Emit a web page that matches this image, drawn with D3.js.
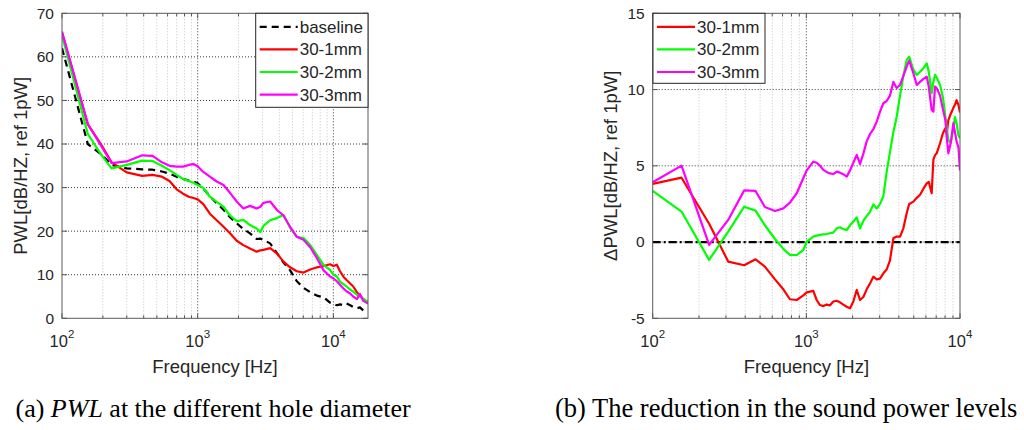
<!DOCTYPE html>
<html>
<head>
<meta charset="utf-8">
<script src="https://cdn.jsdelivr.net/npm/d3@7"></script>
<style>
  body { margin: 0; background: #fff; }
  text { font-family: "Liberation Sans", Arial, sans-serif; fill: #262626; }
  .cap { font-family: "Liberation Serif", "Times New Roman", serif; fill: #000; }
</style>
</head>
<body>
<svg id="fig" width="1024" height="430"></svg>
<script>
// ---- panel (a): PWL, frequency grid shared by all four curves
const freqA = [100, 155, 195, 232, 300, 390, 465, 545, 620, 700, 780, 860, 930, 1000, 1100, 1230, 1380, 1550, 1730, 1940,
  2170, 2430, 2720, 2900, 3050, 3420, 3830, 4290, 4800, 5380, 6030, 6750, 7570, 8480, 9450, 10000, 10600, 11200, 11900,
  12500, 13300, 14000, 14900, 15700, 16600, 17500, 18000];

const baseline = [62.0, 40.0, 37.6, 35.2, 34.4, 34.2, 34.1, 33.7, 33.2, 32.5, 32.0, 31.6, 31.4, 31.0, 29.8, 28.0, 26.4, 24.9, 23.2, 21.8,
  20.5, 19.5, 18.2, 18.3, 18.0, 17.2, 15.0, 12.8, 11.0, 8.5, 7.0, 6.0, 5.2, 4.8, 3.6, 3.3, 3.0, 3.2, 3.0,
  3.4, 3.0, 2.6, 2.3, 2.5, 1.8, 1.6, 1.5];
const pwl1mm = [65.5, 44.5, 39.8, 35.8, 33.5, 32.7, 32.9, 32.5, 31.5, 29.6, 28.6, 27.9, 27.6, 27.3, 26.2, 24.0, 22.5, 21.0, 19.5, 17.8,
  16.8, 16.0, 15.3, 15.6, 15.7, 16.1, 14.9, 13.0, 11.7, 10.8, 10.5, 11.2, 11.7, 12.0, 12.4, 12.0, 12.3, 10.8, 9.5,
  8.8, 8.0, 7.3, 6.0, 5.2, 4.4, 3.9, 3.7];
const pwl2mm = [65.0, 42.3, 37.5, 34.4, 35.2, 36.2, 36.1, 35.0, 34.0, 32.9, 32.0, 31.5, 31.1, 30.6, 29.9, 27.9, 26.7, 25.6, 23.6, 22.3,
  22.6, 21.4, 20.6, 19.8, 21.2, 22.5, 23.0, 23.7, 20.8, 18.7, 18.4, 16.8, 14.5, 12.2, 11.1, 10.0, 9.6, 8.4, 7.8,
  7.3, 6.6, 6.1, 5.4, 5.0, 4.5, 4.0, 3.8];
const pwl3mm = [65.8, 44.6, 39.5, 35.6, 36.0, 37.4, 37.3, 35.8, 35.0, 34.8, 34.8, 35.2, 35.4, 34.9, 33.6, 32.5, 31.4, 30.6, 28.8, 26.8,
  25.2, 25.8, 25.2, 25.6, 26.5, 26.8, 24.9, 23.6, 21.0, 18.7, 18.0, 16.3, 13.8, 11.0, 9.6, 9.2, 8.5, 7.7, 6.8,
  6.2, 5.7, 5.0, 4.4, 5.6, 4.0, 3.6, 3.4];

// ---- panel (b): delta PWL
const freqB = [100, 154, 233, 310, 394, 467, 537, 625, 708, 782, 866, 956, 1005, 1110, 1167, 1227, 1290, 1356, 1426, 1498,
  1575, 1656, 1740, 1830, 1925, 2022, 2127, 2235, 2350, 2470, 2600, 2730, 2870, 3016, 3170, 3333, 3500, 3684, 3870,
  4071, 4280, 4499, 4670, 4972, 5230, 5495, 5780, 6072, 6260, 6540, 6710, 6880, 7050, 7416, 7740, 8030, 8195, 8400,
  8700, 9057, 9270, 9500, 9770, 10000];

const d1mm = [3.81, 4.22, 1.2, -1.28, -1.52, -1.13, -1.61, -2.45, -3.1, -3.75, -3.8, -3.5, -3.3, -3.2, -3.8, -4.13, -4.2, -4.1, -4.15, -3.9,
  -3.85, -3.95, -4.1, -4.24, -4.34, -3.9, -3.14, -3.8, -3.6, -3.1, -2.7, -2.27, -2.45, -2.4, -2.05, -1.8, -1.2, 0.25, 0.36,
  0.36, 0.9, 1.89, 2.5, 2.65, 2.9, 3.1, 3.5, 3.85, 3.95, 3.2, 5.4, 5.7, 5.82, 6.48, 7.13, 7.46, 7.1, 8.0,
  8.4, 8.8, 9.0, 9.3, 9.0, 8.5];
const d2mm = [3.35, 2.0, -1.17, 0.68, 2.32, 2.06, 1.1, 0.2, -0.45, -0.85, -0.85, -0.52, 0.03, 0.36, 0.42, 0.47, 0.5, 0.53, 0.58, 0.62,
  0.9, 0.97, 0.85, 0.79, 1.1, 1.35, 1.62, 0.9, 1.4, 1.7, 2.0, 2.47, 2.2, 2.5, 3.0, 4.6, 5.9, 7.2, 8.2,
  9.6, 10.9, 11.94, 12.16, 11.3, 10.96, 11.17, 11.4, 11.72, 11.17, 9.75, 10.5, 10.96, 10.8, 10.3, 9.5, 8.22, 7.5, 6.7,
  6.5, 7.4, 8.2, 7.8, 7.0, 6.8];
const d3mm = [3.92, 5.01, -0.19, 1.45, 3.39, 3.35, 2.3, 2.04, 2.21, 2.58, 3.2, 4.2, 4.7, 5.27, 5.2, 5.0, 4.73, 4.6, 4.5, 4.46,
  4.62, 4.55, 4.45, 4.29, 4.7, 5.2, 5.71, 5.12, 5.8, 6.6, 7.1, 7.4, 7.9, 8.55, 9.1, 9.25, 9.6, 10.5, 10.1,
  10.3, 10.9, 11.5, 11.9, 11.07, 10.3, 10.5, 10.7, 10.85, 10.2, 8.66, 8.55, 10.2, 10.1, 9.6, 8.7, 8.0, 6.9, 5.82,
  6.5, 7.8, 7.2, 6.6, 6.2, 4.7];

const ticksA = [0, 10, 20, 30, 40, 50, 60, 70];
const ticksB = [-5, 0, 5, 10, 15];
const namesA = ['baseline', '30-1mm', '30-2mm', '30-3mm'];
const namesB = ['30-1mm', '30-2mm', '30-3mm'];
const colors = { 'baseline': '#000', '30-1mm': '#ff0000', '30-2mm': '#00ff00', '30-3mm': '#ff00ff' };

const svg = d3.select('#fig');

function drawPanel(o) {
  var x = d3.scaleLog().domain(o.xDomain).range([o.left, o.right]);
  var y = d3.scaleLinear().domain(o.yDomain).range([o.bottom, o.top]);
  var g = svg.append('g');

  // minor + major x grid
  var minor = [];
  for (var e = 2; e <= 4; e++) {
    for (var m = 2; m <= 9; m++) {
      var v = m * Math.pow(10, e);
      if (v > o.xDomain[0] && v < o.xDomain[1]) minor.push(v);
    }
  }
  var major = [100, 1000, 10000].filter(d => d >= o.xDomain[0] && d <= o.xDomain[1]);

  g.selectAll('.mg').data(minor).join('line')
    .attr('x1', d => x(d)).attr('x2', d => x(d))
    .attr('y1', o.top).attr('y2', o.bottom)
    .attr('stroke', '#c4c4c4').attr('stroke-width', 1).attr('stroke-dasharray', '1,2');
  g.selectAll('.Mg').data(major.filter(d => x(d) > o.left + 1 && x(d) < o.right - 1)).join('line')
    .attr('x1', d => x(d)).attr('x2', d => x(d))
    .attr('y1', o.top).attr('y2', o.bottom)
    .attr('stroke', '#3a3a3a').attr('stroke-width', 1).attr('stroke-dasharray', '1,2');
  g.selectAll('.yg').data(o.yTicks.slice(1, -1)).join('line')
    .attr('x1', o.left).attr('x2', o.right)
    .attr('y1', d => y(d)).attr('y2', d => y(d))
    .attr('stroke', '#3a3a3a').attr('stroke-width', 1).attr('stroke-dasharray', '1,2');

  // inward ticks on all four sides
  var tk = g.append('g').attr('stroke', '#555').attr('stroke-width', 1);
  major.forEach(function (d) {
    tk.append('line').attr('x1', x(d)).attr('x2', x(d)).attr('y1', o.bottom).attr('y2', o.bottom - 5);
    tk.append('line').attr('x1', x(d)).attr('x2', x(d)).attr('y1', o.top).attr('y2', o.top + 5);
  });
  minor.forEach(function (d) {
    tk.append('line').attr('x1', x(d)).attr('x2', x(d)).attr('y1', o.bottom).attr('y2', o.bottom - 3);
    tk.append('line').attr('x1', x(d)).attr('x2', x(d)).attr('y1', o.top).attr('y2', o.top + 3);
  });
  o.yTicks.forEach(function (d) {
    tk.append('line').attr('x1', o.left).attr('x2', o.left + 5).attr('y1', y(d)).attr('y2', y(d));
    tk.append('line').attr('x1', o.right).attr('x2', o.right - 5).attr('y1', y(d)).attr('y2', y(d));
  });

  // clip for data
  var cid = 'clip' + o.id;
  svg.append('clipPath').attr('id', cid).append('rect')
    .attr('x', o.left).attr('y', o.top).attr('width', o.right - o.left).attr('height', o.bottom - o.top);

  var line = d3.line().x(d => x(d[0])).y(d => y(d[1]));
  var data = g.append('g').attr('clip-path', 'url(#' + cid + ')');

  if (o.zeroLine) {
    data.append('line').attr('x1', o.left).attr('x2', o.right).attr('y1', y(0)).attr('y2', y(0))
      .attr('stroke', '#000').attr('stroke-width', 2.2).attr('stroke-dasharray', '8,3,2,3');
  }

  o.series.forEach(function (s) {
    data.append('path')
      .datum(o.freq.map((f, i) => [f, s.values[i]]))
      .attr('d', line)
      .attr('fill', 'none')
      .attr('stroke', colors[s.name])
      .attr('stroke-width', 2.2)
      .attr('stroke-linejoin', 'round')
      .attr('stroke-dasharray', s.dash || null);
  });

  // axes box
  g.append('rect').attr('x', o.left).attr('y', o.top)
    .attr('width', o.right - o.left).attr('height', o.bottom - o.top)
    .attr('fill', 'none').attr('stroke', '#5a5a5a').attr('stroke-width', 1);

  // tick labels
  var xt = g.selectAll('.xt').data(major).join('text')
    .attr('x', d => x(d)).attr('y', o.bottom + 29)
    .attr('text-anchor', 'middle').style('font-size', '16.5px');
  xt.append('tspan').text('10');
  xt.append('tspan').attr('dy', -9).style('font-size', '11.5px').text(d => Math.round(Math.log10(d)));

  g.selectAll('.yt').data(o.yTicks).join('text')
    .attr('x', o.left - 8).attr('y', d => y(d)).attr('dy', '0.35em')
    .attr('text-anchor', 'end').style('font-size', '15.5px')
    .text(d => d);

  // axis labels
  g.append('text').attr('x', (o.left + o.right) / 2).attr('y', o.bottom + 55)
    .attr('text-anchor', 'middle').style('font-size', '18.5px').text('Frequency [Hz]');
  g.append('text')
    .attr('transform', 'translate(' + o.yLabelX + ',' + (o.top + o.bottom) / 2 + ') rotate(-90)')
    .attr('text-anchor', 'middle').style('font-size', '18.5px').text(o.yLabel);

  // legend
  var L = o.legend;
  var lg = g.append('g');
  lg.append('rect').attr('x', L.x).attr('y', L.y).attr('width', L.w).attr('height', L.h)
    .attr('fill', '#fff').attr('stroke', '#262626').attr('stroke-width', 1);
  o.series.forEach(function (s, i) {
    var yy = L.y + 13.5 + i * 22.6;
    lg.append('line').attr('x1', L.x + 4).attr('x2', L.x + 42).attr('y1', yy).attr('y2', yy)
      .attr('stroke', colors[s.name]).attr('stroke-width', 2.2).attr('stroke-dasharray', s.dash || null);
    lg.append('text').attr('x', L.x + 44).attr('y', yy).attr('dy', '0.35em')
      .style('font-size', '17px').text(s.name);
  });
}

drawPanel({
  id: 'a', left: 62, right: 368, top: 13.3, bottom: 318.3,
  xDomain: [100, 18000], yDomain: [0, 70], yTicks: ticksA,
  yLabel: 'PWL[dB/HZ, ref 1pW]', yLabelX: 27,
  freq: freqA,
  series: [
    { name: namesA[0], values: baseline, dash: '7,5' },
    { name: namesA[1], values: pwl1mm },
    { name: namesA[2], values: pwl2mm },
    { name: namesA[3], values: pwl3mm }
  ],
  legend: { x: 255.7, y: 13.3, w: 112.3, h: 94 }
});

drawPanel({
  id: 'b', left: 652.7, right: 960, top: 13.3, bottom: 318.3,
  xDomain: [100, 10000], yDomain: [-5, 15], yTicks: ticksB,
  yLabel: '\u0394PWL[dB/HZ, ref 1pW]', yLabelX: 617,
  freq: freqB, zeroLine: true,
  series: [
    { name: namesB[0], values: d1mm },
    { name: namesB[1], values: d2mm },
    { name: namesB[2], values: d3mm }
  ],
  legend: { x: 653, y: 13.3, w: 112, h: 70 }
});

// captions
var ca = svg.append('text').attr('class', 'cap').attr('x', 15.5).attr('y', 417).style('font-size', '26px');
ca.append('tspan').text('(a) ');
ca.append('tspan').style('font-style', 'italic').text('PWL');
ca.append('tspan').text(' at the different hole diameter');

svg.append('text').attr('class', 'cap').attr('x', 555).attr('y', 417).style('font-size', '26.5px')
  .text('(b) The reduction in the sound power levels');
</script>
</body>
</html>
